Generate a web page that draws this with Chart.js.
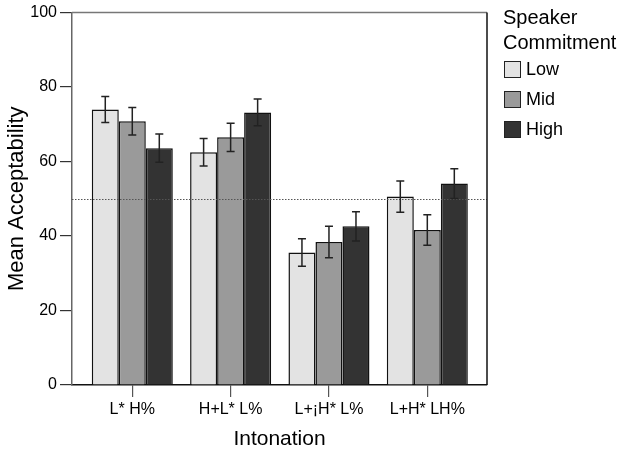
<!DOCTYPE html>
<html>
<head>
<meta charset="utf-8">
<script src="https://cdn.jsdelivr.net/npm/chart.js@4/dist/chart.umd.min.js"></script>
<style>
  html, body { margin: 0; padding: 0; background: #fff; }
  #wrap { position: relative; width: 620px; height: 453px; }
  canvas { position: absolute; left: 0; top: 0; }
  #legend { position: absolute; left: 503px; top: 5px; font-family: "Liberation Sans", Arial, sans-serif; color: #000; }
  #legend .title { font-size: 20px; line-height: 24.5px; }
  #legend .item { display: flex; align-items: center; height: 30px; font-size: 18px; }
  #legend .item:first-of-type { margin-top: 2px; }
  #legend .box { width: 15px; height: 15px; border: 1px solid #222; margin-right: 5px; margin-left: 1px; }
</style>
</head>
<body>
<div id="wrap">
  <canvas id="c" width="620" height="453"></canvas>
  <div id="legend"></div>
</div>
<script>
const categories = ["L* H%", "H+L* L%", "L+\u00a1H* L%", "L+H* LH%"];
const seriesNames = ["Low", "Mid", "High"];
const lowValues  = [74.0, 62.5, 35.6, 50.6];
const midValues  = [70.8, 66.5, 38.4, 41.6];
const highValues = [63.6, 73.2, 42.6, 54.1];
const lowErrors  = [3.5, 3.7, 3.7, 4.2];
const midErrors  = [3.7, 3.8, 4.2, 4.1];
const highErrors = [3.8, 3.6, 3.9, 4.0];
const yTicks = [0, 20, 40, 60, 80, 100];
const referenceValue = 50;

const colors = ["#e3e3e3", "#9a9a9a", "#333333"];
const allValues = [lowValues, midValues, highValues];
const allErrors = [lowErrors, midErrors, highErrors];

const FONT = '"Liberation Sans", Arial, sans-serif';

const datasets = seriesNames.map((name, s) => ({
  label: name,
  data: allValues[s].map((v, i) => ({ x: i, y: v })),
  errors: allErrors[s],
  backgroundColor: colors[s],
  borderColor: "#111",
  borderWidth: 1.5,
  categoryPercentage: 0.824,
  barPercentage: 1.0
}));

const errorBarPlugin = {
  id: "errorBars",
  afterDatasetsDraw(chart) {
    const ctx = chart.ctx;
    const y = chart.scales.y;
    ctx.save();
    ctx.strokeStyle = "#222";
    ctx.lineWidth = 1.5;
    chart.data.datasets.forEach((ds, di) => {
      const meta = chart.getDatasetMeta(di);
      meta.data.forEach((bar, i) => {
        const v = ds.data[i].y, e = ds.errors[i];
        const top = y.getPixelForValue(v + e);
        const bot = y.getPixelForValue(v - e);
        const x = bar.x;
        ctx.beginPath();
        ctx.moveTo(x, top); ctx.lineTo(x, bot);
        ctx.moveTo(x - 4, top); ctx.lineTo(x + 4, top);
        ctx.moveTo(x - 4, bot); ctx.lineTo(x + 4, bot);
        ctx.stroke();
      });
    });
    ctx.restore();
  }
};

const refLinePlugin = {
  id: "refLine",
  afterDatasetsDraw(chart) {
    const ctx = chart.ctx;
    const a = chart.chartArea;
    const yy = Math.round(chart.scales.y.getPixelForValue(referenceValue)) + 0.5;
    ctx.save();
    ctx.strokeStyle = "#555";
    ctx.lineWidth = 1;
    ctx.setLineDash([1.5, 1.5]);
    ctx.beginPath();
    ctx.moveTo(a.left, yy); ctx.lineTo(a.right, yy);
    ctx.stroke();
    ctx.restore();
  }
};

const framePlugin = {
  id: "frame",
  afterDraw(chart) {
    const ctx = chart.ctx;
    const a = chart.chartArea;
    ctx.save();
    ctx.lineWidth = 1.5;
    ctx.strokeStyle = "#777";
    ctx.beginPath();
    ctx.moveTo(a.left, a.top); ctx.lineTo(a.right, a.top);
    ctx.stroke();
    ctx.strokeStyle = "#111";
    ctx.beginPath();
    ctx.moveTo(a.right, a.top); ctx.lineTo(a.right, a.bottom);
    ctx.stroke();
    ctx.restore();
  }
};

new Chart(document.getElementById("c"), {
  type: "bar",
  data: { datasets },
  options: {
    responsive: false,
    animation: false,
    devicePixelRatio: 1,
    layout: { padding: { left: 0, right: 133, top: 12, bottom: 0 } },
    plugins: {
      legend: { display: false },
      tooltip: { enabled: false }
    },
    scales: {
      x: {
        type: "linear",
        offset: false,
        min: -0.613,
        max: 3.607,
        afterBuildTicks: (scale) => { scale.ticks = categories.map((_, i) => ({ value: i })); },
        afterFit: (scale) => { scale.height = 68; },
        ticks: {
          callback: (v) => categories[v],
          color: "#000",
          font: { family: FONT, size: 16 },
          padding: 3,
          maxRotation: 0,
          autoSkip: false
        },
        grid: { display: true, offset: false, drawOnChartArea: false, drawTicks: true, tickLength: 12, color: "#555", lineWidth: 1.2 },
        border: { display: true, color: "#111", width: 1.5 },
        title: { display: true, text: "Intonation", color: "#000", font: { family: FONT, size: 21 }, padding: { top: 0, bottom: 1 } }
      },
      y: {
        min: 0,
        max: 100,
        afterBuildTicks: (scale) => { scale.ticks = yTicks.map(v => ({ value: v })); },
        afterFit: (scale) => { scale.width = 72; },
        ticks: { color: "#000", font: { family: FONT, size: 16 }, padding: 3 },
        grid: { display: true, drawOnChartArea: false, drawTicks: true, tickLength: 12, color: "#333", lineWidth: 1.2 },
        border: { display: true, color: "#666", width: 1.5 },
        title: { display: true, text: "Mean Acceptability", color: "#000", font: { family: FONT, size: 22 }, padding: { top: 4, bottom: 0 } }
      }
    }
  },
  plugins: [refLinePlugin, errorBarPlugin, framePlugin]
});

const legend = document.getElementById("legend");
legend.innerHTML = '<div class="title">Speaker<br>Commitment</div>' +
  seriesNames.map((n, i) => '<div class="item"><span class="box" style="background:' + colors[i] + '"></span>' + n + '</div>').join("");
</script>
</body>
</html>
